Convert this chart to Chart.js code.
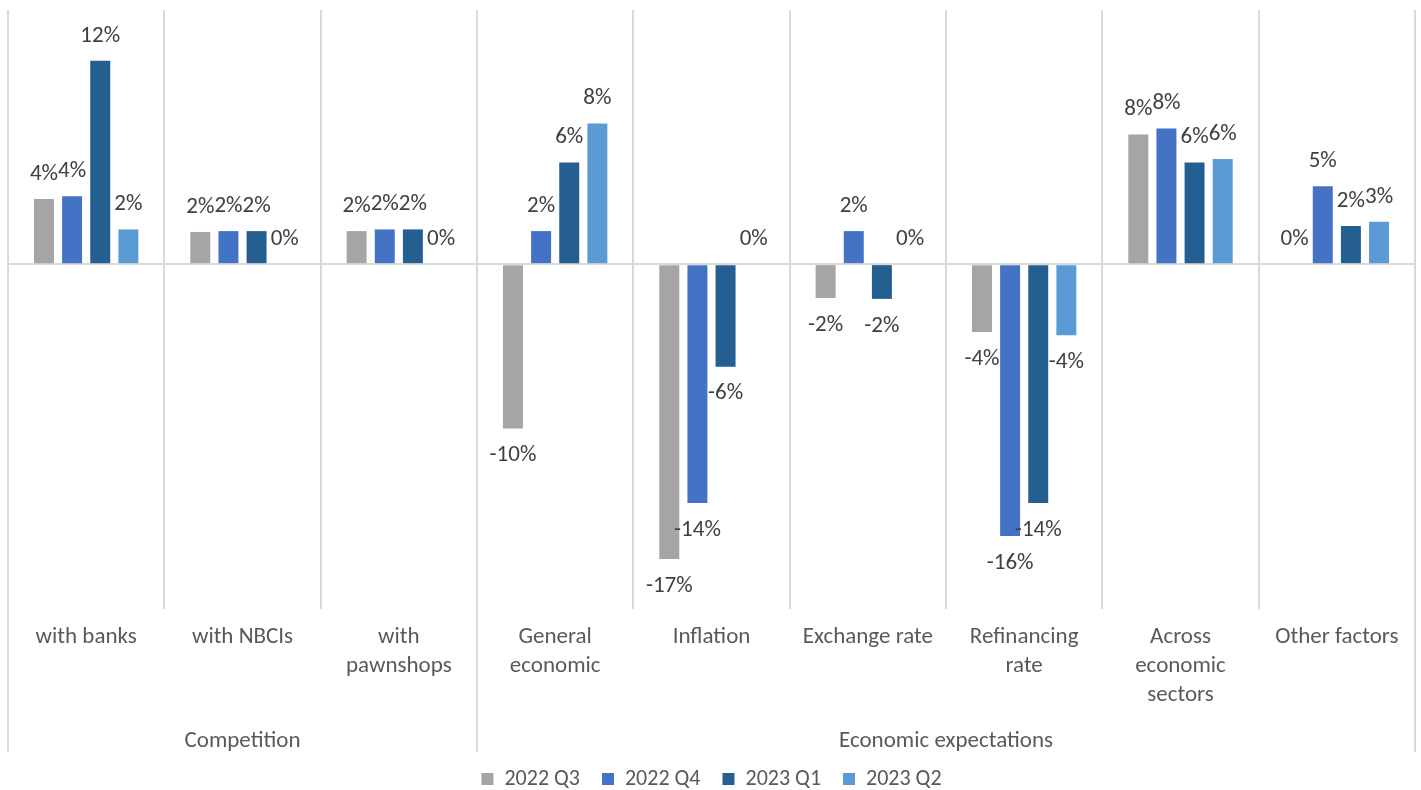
<!DOCTYPE html>
<html>
<head>
<meta charset="utf-8">
<script src="https://cdn.jsdelivr.net/npm/chart.js@4.4.1/dist/chart.umd.min.js"></script>
<style>
  html, body { margin: 0; padding: 0; background: #fff; }
  #wrap { width: 1421px; height: 790px; }
</style>
</head>
<body>
<div id="wrap"><canvas id="chart"></canvas></div>
<script>
// Categories (multi-line as in the original), groups and series
const categories = [['with banks'], ['with NBCIs'], ['with', 'pawnshops'], ['General', 'economic'], ['Inflation'],
    ['Exchange rate'], ['Refinancing', 'rate'], ['Across', 'economic', 'sectors'], ['Other factors']];
const groupNames = ['Competition', 'Economic expectations'];
const groupSizes = [3, 6];
const seriesNames = ['2022 Q3', '2022 Q4', '2023 Q1', '2023 Q2'];
const q3of2022 = [3.85, 1.9, 1.95, -9.7, -17.4, -2.0, -4.0, 7.65, 0];
const q4of2022 = [4.0, 1.95, 2.05, 1.95, -14.1, 1.95, -16.05, 8.0, 4.6];
const q1of2023 = [12.0, 1.95, 2.05, 6.0, -6.05, -2.05, -14.1, 6.0, 2.25];
const q2of2023 = [2.05, 0, 0, 8.3, 0, 0, -4.2, 6.2, 2.5];
const seriesColors = ['#a5a5a5', '#4472c4', '#255e91', '#5b9bd5'];

const FONT = 'Carlito, Calibri, Lato, sans-serif';

// percent labels above / below each bar
const valueLabels = {
    id: 'valueLabels',
    afterDatasetsDraw(chart) {
        const ctx = chart.ctx;
        ctx.save();
        ctx.font = '23px ' + FONT;
        ctx.fillStyle = '#404040';
        ctx.textAlign = 'center';
        ctx.textBaseline = 'middle';
        chart.data.datasets.forEach((ds, i) => {
            chart.getDatasetMeta(i).data.forEach((bar, j) => {
                const v = ds.data[j];
                const y = v < 0 ? bar.y + 27 : bar.y - 25;
                ctx.fillText(Math.round(v) + '%', bar.x, y);
            });
        });
        ctx.restore();
    }
};

// second level of the category axis
const groupAxis = {
    id: 'groupAxis',
    afterDraw(chart) {
        const ctx = chart.ctx;
        const area = chart.chartArea;
        const catW = (area.right - area.left) / categories.length;
        const bottom = 752;
        ctx.save();
        ctx.strokeStyle = '#d9d9d9';
        ctx.lineWidth = 2;
        ctx.font = '23px ' + FONT;
        ctx.fillStyle = '#595959';
        ctx.textAlign = 'center';
        ctx.textBaseline = 'middle';
        let start = 0;
        const edges = [0];
        groupNames.forEach((name, g) => {
            const end = start + groupSizes[g];
            edges.push(end);
            const x0 = area.left + start * catW;
            const x1 = area.left + end * catW;
            ctx.fillText(name, (x0 + x1) / 2, 741);
            start = end;
        });
        edges.forEach(e => {
            const x = area.left + e * catW;
            ctx.beginPath();
            ctx.moveTo(x, area.bottom);
            ctx.lineTo(x, bottom);
            ctx.stroke();
        });
        ctx.restore();
    }
};

const allSeries = [q3of2022, q4of2022, q1of2023, q2of2023];

const chart = new Chart(document.getElementById('chart').getContext('2d'), {
    type: 'bar',
    data: {
        labels: categories,
        datasets: allSeries.map((d, i) => ({
            label: seriesNames[i],
            data: d,
            backgroundColor: seriesColors[i],
            categoryPercentage: 0.72,
            barPercentage: 0.71
        }))
    },
    options: {
        responsive: true,
        maintainAspectRatio: false,
        animation: false,
        layout: {
            padding: { top: 10, left: 8, right: 6, bottom: -10 }
        },
        plugins: {
            tooltip: { enabled: false },
            legend: {
                position: 'bottom',
                labels: {
                    boxWidth: 12,
                    boxHeight: 12,
                    color: '#595959',
                    padding: 22,
                    font: { size: 22, family: FONT, lineHeight: 1.0 }
                }
            }
        },
        scales: {
            x: {
                grid: {
                    offset: true,
                    color: '#d9d9d9',
                    lineWidth: 2,
                    tickLength: 6
                },
                border: { display: false },
                ticks: {
                    color: '#595959',
                    padding: 14,
                    maxRotation: 0,
                    autoSkip: false,
                    font: { size: 23, family: FONT, lineHeight: 1.26 }
                },
                afterFit(scale) { scale.height = 143; }
            },
            y: {
                min: -20,
                max: 15,
                ticks: { display: false, stepSize: 5 },
                grid: {
                    drawTicks: false,
                    lineWidth: 2,
                    color: c => c.tick.value === 0 ? '#d9d9d9' : 'rgba(0,0,0,0)'
                },
                border: { display: false },
                afterFit(scale) { scale.width = 0; }
            }
        }
    },
    plugins: [valueLabels, groupAxis]
});
</script>
</body>
</html>
